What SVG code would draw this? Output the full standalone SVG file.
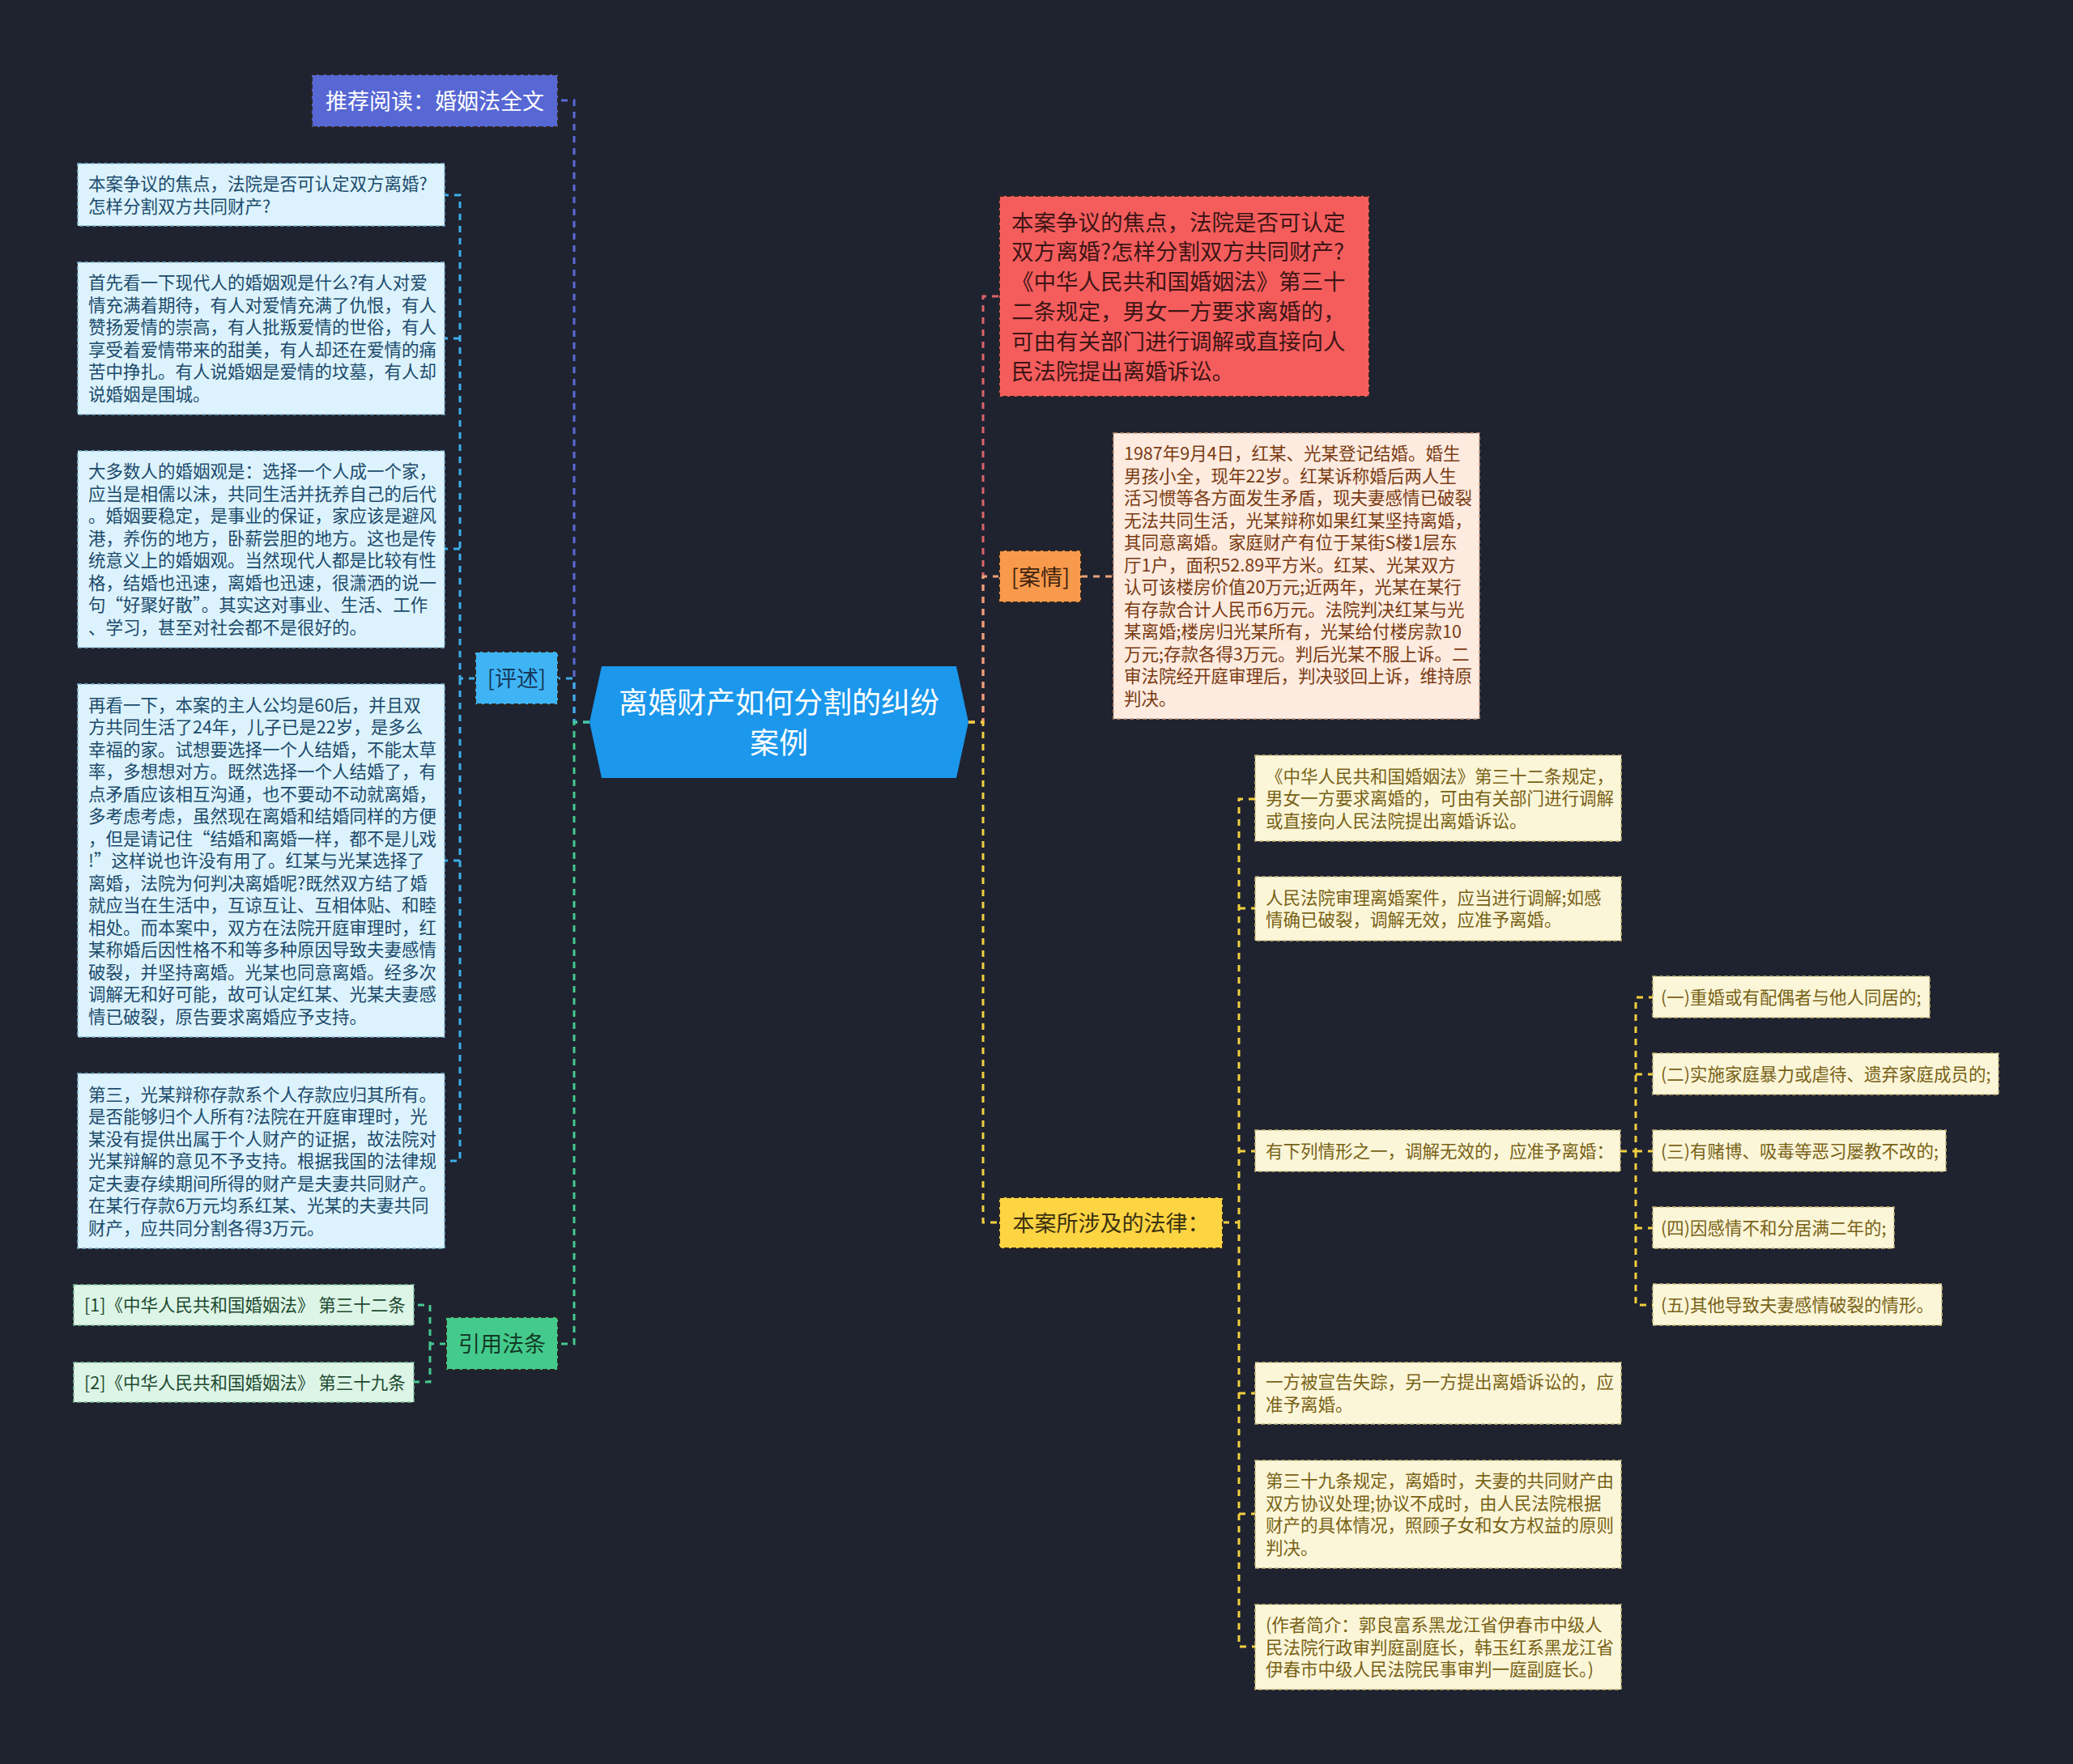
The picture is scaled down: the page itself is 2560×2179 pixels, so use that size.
<svg xmlns="http://www.w3.org/2000/svg" width="2560" height="2179" viewBox="0 0 2560 2179">
<style>
text{font-family:"Noto Sans CJK SC","Noto Sans",sans-serif;}
.c{fill:none;stroke-width:3;stroke-dasharray:8 7;}
.cv{stroke:#5b6ad6}.cb{stroke:#3daee9}.cg{stroke:#45c98f}.cr{stroke:#d9646b}.co{stroke:#eba077}.cy{stroke:#f2cf3e}
.box{stroke-width:1.5;stroke-dasharray:5 3;}
.mb{stroke-width:2;stroke-dasharray:6 3;stroke:#2b2620;}
.lb{fill:#dcf3fd;stroke:#7fb5cf}.lbt{fill:#1c4b6c;font-size:21.5px}
.lg{fill:#ddf5e7;stroke:#7fbf98}.lgt{fill:#1d4a2f;font-size:21.5px}
.pe{fill:#fdebe0;stroke:#c79a80}.pet{fill:#7a3b12;font-size:21.5px}
.ly{fill:#fcf6d9;stroke:#c9b97a}.lyt{fill:#786216;font-size:21.5px}
.mt{font-size:27px;text-anchor:middle}
</style>
<rect x="0" y="0" width="2560" height="2179" fill="#1f2330"/>
<g id="connectors">
<path class="c cv" d="M728,892 H709 V124 H689"/>
<path class="c cb" d="M728,892 H709 V838 H689"/>
<path class="c cg" d="M728,892 H709 V1660 H689"/>
<path class="c cb" d="M587,838 H568 V241 H549 M568,418 H549 M568,678 H549 M568,1063 H549 M568,838 V1434 H549"/>
<path class="c cg" d="M551,1660 H531 V1612 H511 M531,1660 V1707 H511"/>
<path class="c cr" d="M1196,892 H1214 V366 H1234"/>
<path class="c co" d="M1196,892 H1214 V712 H1234"/>
<path class="c co" d="M1335,712 H1375"/>
<path class="c cy" d="M1196,892 H1214 V1510 H1234"/>
<path class="c cy" d="M1510,1510 H1530 V987 H1550 M1530,1122 H1550 M1530,1422 H1550 M1530,1510 V2034 H1550 M1530,1721 H1550 M1530,1870 H1550"/>
<path class="c cy" d="M2001,1422 H2020 V1232 H2041 M2020,1327 H2041 M2020,1422 H2041 M2020,1422 V1612 H2041 M2020,1517 H2041"/>
</g>
<g id="root">
<polygon points="728,892 743,823 1181,823 1196,892 1181,961 743,961" fill="#1b97ec"/>
<text x="962" y="881" font-size="36" fill="#ffffff" text-anchor="middle">离婚财产如何分割的纠纷</text>
<text x="962" y="931" font-size="36" fill="#ffffff" text-anchor="middle">案例</text>
</g>
<g id="n-tuijian">
<rect class="mb" x="385" y="92" width="304" height="65" fill="#5767d4"/>
<text class="mt" x="537" y="135" fill="#ffffff">推荐阅读：婚姻法全文</text>
</g>
<g id="n-pingshu">
<rect class="mb" x="587" y="805" width="102" height="65" fill="#3fb4f5"/>
<text class="mt" x="638" y="848" fill="#15395a">[评述]</text>
</g>
<g id="n-p1">
<rect class="box lb" x="96" y="202" width="453" height="77"/>
<text class="lbt"><tspan x="109" y="235">本案争议的焦点，法院是否可认定双方离婚?</tspan><tspan x="109" y="262.5">怎样分割双方共同财产?</tspan></text>
</g>
<g id="n-p2">
<rect class="box lb" x="96" y="324" width="453" height="188"/>
<text class="lbt"><tspan x="109" y="357.25">首先看一下现代人的婚姻观是什么?有人对爱</tspan><tspan x="109" y="384.75">情充满着期待，有人对爱情充满了仇恨，有人</tspan><tspan x="109" y="412.25">赞扬爱情的崇高，有人批叛爱情的世俗，有人</tspan><tspan x="109" y="439.75">享受着爱情带来的甜美，有人却还在爱情的痛</tspan><tspan x="109" y="467.25">苦中挣扎。有人说婚姻是爱情的坟墓，有人却</tspan><tspan x="109" y="494.75">说婚姻是围城。</tspan></text>
</g>
<g id="n-p3">
<rect class="box lb" x="96" y="557" width="453" height="243"/>
<text class="lbt"><tspan x="109" y="590.25">大多数人的婚姻观是：选择一个人成一个家，</tspan><tspan x="109" y="617.75">应当是相儒以沫，共同生活并抚养自己的后代</tspan><tspan x="109" y="645.25">。婚姻要稳定，是事业的保证，家应该是避风</tspan><tspan x="109" y="672.75">港，养伤的地方，卧薪尝胆的地方。这也是传</tspan><tspan x="109" y="700.25">统意义上的婚姻观。当然现代人都是比较有性</tspan><tspan x="109" y="727.75">格，结婚也迅速，离婚也迅速，很潇洒的说一</tspan><tspan x="109" y="755.25">句“好聚好散”。其实这对事业、生活、工作</tspan><tspan x="109" y="782.75">、学习，甚至对社会都不是很好的。</tspan></text>
</g>
<g id="n-p4">
<rect class="box lb" x="96" y="845" width="453" height="436"/>
<text class="lbt"><tspan x="109" y="878.5">再看一下，本案的主人公均是60后，并且双</tspan><tspan x="109" y="906">方共同生活了24年，儿子已是22岁，是多么</tspan><tspan x="109" y="933.5">幸福的家。试想要选择一个人结婚，不能太草</tspan><tspan x="109" y="961">率，多想想对方。既然选择一个人结婚了，有</tspan><tspan x="109" y="988.5">点矛盾应该相互沟通，也不要动不动就离婚，</tspan><tspan x="109" y="1016">多考虑考虑，虽然现在离婚和结婚同样的方便</tspan><tspan x="109" y="1043.5">，但是请记住“结婚和离婚一样，都不是儿戏</tspan><tspan x="109" y="1071">!”这样说也许没有用了。红某与光某选择了</tspan><tspan x="109" y="1098.5">离婚，法院为何判决离婚呢?既然双方结了婚</tspan><tspan x="109" y="1126">就应当在生活中，互谅互让、互相体贴、和睦</tspan><tspan x="109" y="1153.5">相处。而本案中，双方在法院开庭审理时，红</tspan><tspan x="109" y="1181">某称婚后因性格不和等多种原因导致夫妻感情</tspan><tspan x="109" y="1208.5">破裂，并坚持离婚。光某也同意离婚。经多次</tspan><tspan x="109" y="1236">调解无和好可能，故可认定红某、光某夫妻感</tspan><tspan x="109" y="1263.5">情已破裂，原告要求离婚应予支持。</tspan></text>
</g>
<g id="n-p5">
<rect class="box lb" x="96" y="1326" width="453" height="216"/>
<text class="lbt"><tspan x="109" y="1359.5">第三，光某辩称存款系个人存款应归其所有。</tspan><tspan x="109" y="1387">是否能够归个人所有?法院在开庭审理时，光</tspan><tspan x="109" y="1414.5">某没有提供出属于个人财产的证据，故法院对</tspan><tspan x="109" y="1442">光某辩解的意见不予支持。根据我国的法律规</tspan><tspan x="109" y="1469.5">定夫妻存续期间所得的财产是夫妻共同财产。</tspan><tspan x="109" y="1497">在某行存款6万元均系红某、光某的夫妻共同</tspan><tspan x="109" y="1524.5">财产，应共同分割各得3万元。</tspan></text>
</g>
<g id="n-yinyong">
<rect class="mb" x="551" y="1627" width="138" height="65" fill="#44ca8c"/>
<text class="mt" x="620" y="1670" fill="#123a27">引用法条</text>
</g>
<g id="n-y1">
<rect class="box lg" x="91" y="1587" width="420" height="50"/>
<text class="lgt" x="104" y="1620">[1]《中华人民共和国婚姻法》 第三十二条</text>
</g>
<g id="n-y2">
<rect class="box lg" x="91" y="1683" width="420" height="49"/>
<text class="lgt" x="104" y="1715.5">[2]《中华人民共和国婚姻法》 第三十九条</text>
</g>
<g id="n-red">
<rect class="mb" x="1234" y="242" width="457" height="248" fill="#f55d5d"/>
<text font-size="27.5" fill="#3e1515"><tspan x="1249" y="284.5">本案争议的焦点，法院是否可认定</tspan><tspan x="1249" y="321.3">双方离婚?怎样分割双方共同财产?</tspan><tspan x="1249" y="358.1">《中华人民共和国婚姻法》第三十</tspan><tspan x="1249" y="394.9">二条规定，男女一方要求离婚的，</tspan><tspan x="1249" y="431.7">可由有关部门进行调解或直接向人</tspan><tspan x="1249" y="468.5">民法院提出离婚诉讼。</tspan></text>
</g>
<g id="n-anqing">
<rect class="mb" x="1234" y="680" width="101" height="64" fill="#f89a4c"/>
<text class="mt" x="1285" y="722.5" fill="#3f2210">[案情]</text>
</g>
<g id="n-case">
<rect class="box pe" x="1375" y="535" width="452" height="353"/>
<text class="pet"><tspan x="1388" y="568.25">1987年9月4日，红某、光某登记结婚。婚生</tspan><tspan x="1388" y="595.75">男孩小全，现年22岁。红某诉称婚后两人生</tspan><tspan x="1388" y="623.25">活习惯等各方面发生矛盾，现夫妻感情已破裂</tspan><tspan x="1388" y="650.75">无法共同生活，光某辩称如果红某坚持离婚，</tspan><tspan x="1388" y="678.25">其同意离婚。家庭财产有位于某街S楼1层东</tspan><tspan x="1388" y="705.75">厅1户，面积52.89平方米。红某、光某双方</tspan><tspan x="1388" y="733.25">认可该楼房价值20万元;近两年，光某在某行</tspan><tspan x="1388" y="760.75">有存款合计人民币6万元。法院判决红某与光</tspan><tspan x="1388" y="788.25">某离婚;楼房归光某所有，光某给付楼房款10</tspan><tspan x="1388" y="815.75">万元;存款各得3万元。判后光某不服上诉。二</tspan><tspan x="1388" y="843.25">审法院经开庭审理后，判决驳回上诉，维持原</tspan><tspan x="1388" y="870.75">判决。</tspan></text>
</g>
<g id="n-law">
<rect class="mb" x="1234" y="1479" width="276" height="63" fill="#fdd442"/>
<text class="mt" x="1372" y="1521" fill="#3b3110">本案所涉及的法律：</text>
</g>
<g id="n-la">
<rect class="box ly" x="1550" y="933" width="452" height="106"/>
<text class="lyt"><tspan x="1563" y="966.5">《中华人民共和国婚姻法》第三十二条规定，</tspan><tspan x="1563" y="994">男女一方要求离婚的，可由有关部门进行调解</tspan><tspan x="1563" y="1021.5">或直接向人民法院提出离婚诉讼。</tspan></text>
</g>
<g id="n-lb">
<rect class="box ly" x="1550" y="1083" width="452" height="79"/>
<text class="lyt"><tspan x="1563" y="1116.75">人民法院审理离婚案件，应当进行调解;如感</tspan><tspan x="1563" y="1144.25">情确已破裂，调解无效，应准予离婚。</tspan></text>
</g>
<g id="n-lc">
<rect class="box ly" x="1550" y="1396" width="451" height="51"/>
<text class="lyt" x="1563" y="1429.5">有下列情形之一，调解无效的，应准予离婚：</text>
</g>
<g id="n-s1">
<rect class="box ly" x="2041" y="1206" width="342" height="51"/>
<text class="lyt" x="2051" y="1239.5">(一)重婚或有配偶者与他人同居的;</text>
</g>
<g id="n-s2">
<rect class="box ly" x="2041" y="1301" width="427" height="51"/>
<text class="lyt" x="2051" y="1334.5">(二)实施家庭暴力或虐待、遗弃家庭成员的;</text>
</g>
<g id="n-s3">
<rect class="box ly" x="2041" y="1396" width="362" height="51"/>
<text class="lyt" x="2051" y="1429.5">(三)有赌博、吸毒等恶习屡教不改的;</text>
</g>
<g id="n-s4">
<rect class="box ly" x="2041" y="1491" width="298" height="51"/>
<text class="lyt" x="2051" y="1524.5">(四)因感情不和分居满二年的;</text>
</g>
<g id="n-s5">
<rect class="box ly" x="2041" y="1586" width="357" height="51"/>
<text class="lyt" x="2051" y="1619.5">(五)其他导致夫妻感情破裂的情形。</text>
</g>
<g id="n-ld">
<rect class="box ly" x="1550" y="1683" width="452" height="76"/>
<text class="lyt"><tspan x="1563" y="1715.25">一方被宣告失踪，另一方提出离婚诉讼的，应</tspan><tspan x="1563" y="1742.75">准予离婚。</tspan></text>
</g>
<g id="n-le">
<rect class="box ly" x="1550" y="1804" width="452" height="133"/>
<text class="lyt"><tspan x="1563" y="1837.25">第三十九条规定，离婚时，夫妻的共同财产由</tspan><tspan x="1563" y="1864.75">双方协议处理;协议不成时，由人民法院根据</tspan><tspan x="1563" y="1892.25">财产的具体情况，照顾子女和女方权益的原则</tspan><tspan x="1563" y="1919.75">判决。</tspan></text>
</g>
<g id="n-lf">
<rect class="box ly" x="1550" y="1982" width="452" height="105"/>
<text class="lyt"><tspan x="1563" y="2015">(作者简介：郭良富系黑龙江省伊春市中级人</tspan><tspan x="1563" y="2042.5">民法院行政审判庭副庭长，韩玉红系黑龙江省</tspan><tspan x="1563" y="2070">伊春市中级人民法院民事审判一庭副庭长。)</tspan></text>
</g>
</svg>
